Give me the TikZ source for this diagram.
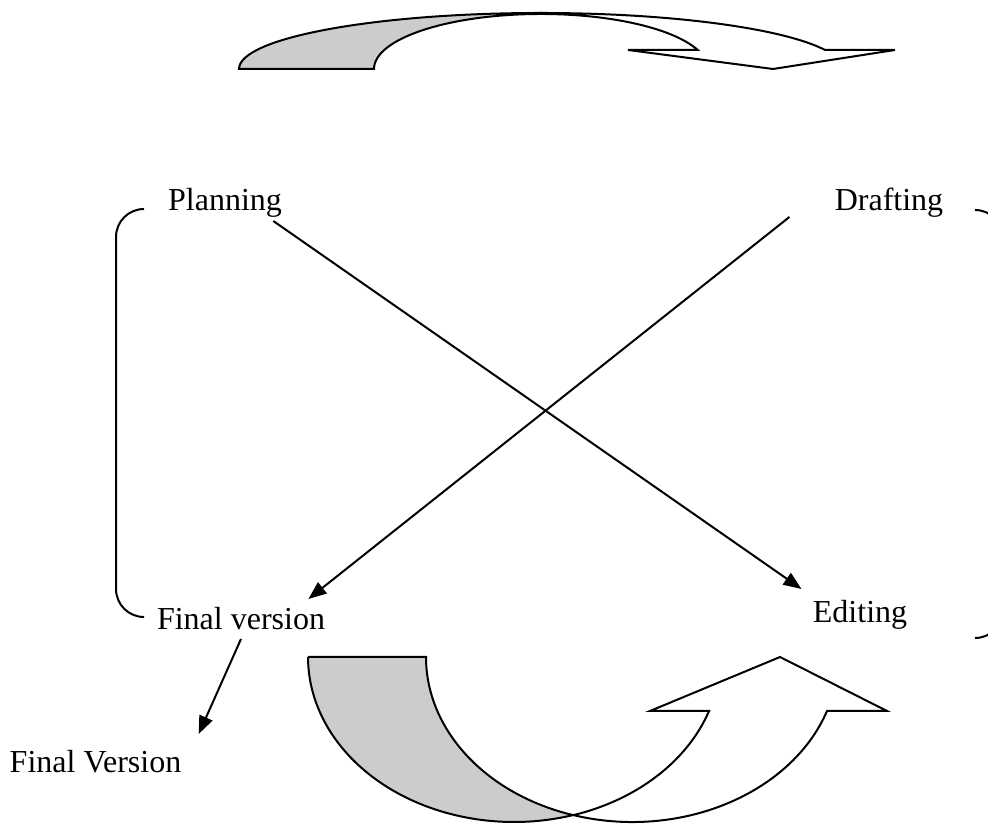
\documentclass[tikz,border=0pt]{standalone}
\usepackage{fontspec}
\setmainfont{Liberation Serif}
\usetikzlibrary{arrows.meta,positioning,calc}
\definecolor{bandgray}{gray}{0.8}
\tikzset{
	stage/.style={inner sep=0pt, anchor=base, font=\fontsize{16}{19}\selectfont},
	link/.style={line width=1pt, -{Triangle[length=9pt,width=7pt]}},
	brace/.style={line width=1pt, rounded corners=14pt},
	band/.style={draw, line width=1pt, line join=miter}
}

\begin{document}
\begin{tikzpicture}[x=0.5pt,y=0.5pt]
	\useasboundingbox (0,0) rectangle (988,823);
	\node[stage] (plan) at (225,612) {Planning};
	\node[stage] (draft) at (889,612) {Drafting};
	\node[stage] (final) at (241,193) {Final version};
	\node[stage] (edit) at (860,200) {Editing};
	\node[stage] (out) at (95.5,51) {Final Version};
	\draw[link] ([shift={(-9,-10)}]plan.base east) -- ([shift={(-11,34)}]edit.base west);
	\draw[link] ([shift={(-45,-6)}]draft.base west) -- ([shift={(-17,31)}]final.base east);
	\draw[link] ([shift={(0,-9)}]final.base) -- ([shift={(17,38)}]out.base east);
	\draw[brace] (144,614) -- (116,614) -- (116,206) -- (142,206);
	\draw[brace] (975,613) -- (1003,613) -- (1003,185) -- (975,185);
%	top curved arrow
	\draw[band, fill=bandgray] (239,754) arc[start angle=180, end angle=90, x radius=302, y radius=56]
		-- (541,809) arc[start angle=90, end angle=180, x radius=167, y radius=55] -- cycle;
	\draw[band, fill=white] (541,810) arc[start angle=90, end angle=19.83, x radius=302, y radius=56]
		-- (895,773) -- (773,754) -- (628,773) -- (697.7,773)
		arc[start angle=20.21, end angle=90, x radius=167, y radius=55] -- cycle;
%	bottom curved arrow
	\draw[band, fill=bandgray] (308,166) -- (426,166)
		arc[start angle=180, end angle=253.36, x radius=206, y radius=165]
		arc[start angle=286.64, end angle=180, x radius=206, y radius=165] -- cycle;
	\draw[band, fill=white] (709,112) -- (650,112) -- (780,166) -- (887,112) -- (827,112)
		arc[start angle=340.9, end angle=253.36, x radius=206, y radius=165]
		arc[start angle=286.64, end angle=340.9, x radius=206, y radius=165] -- cycle;
\end{tikzpicture}
\end{document}
